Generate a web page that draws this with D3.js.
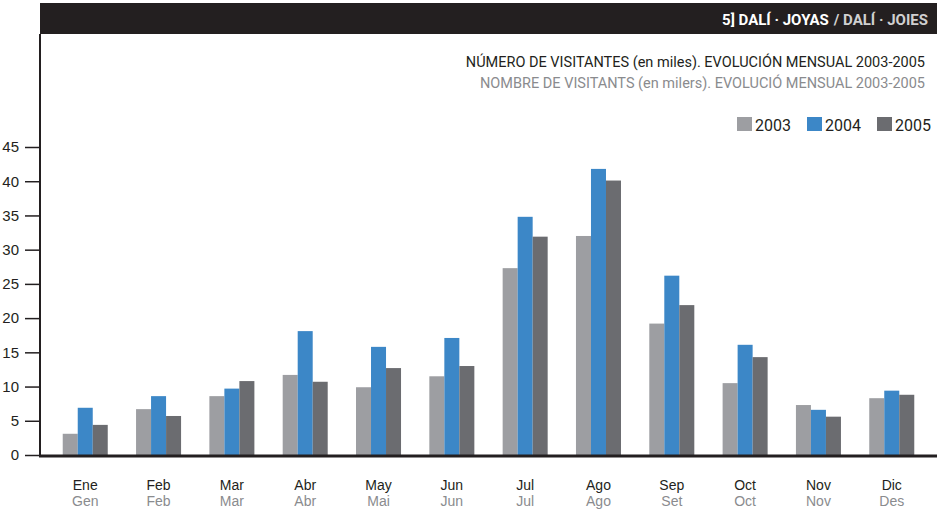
<!DOCTYPE html>
<html>
<head>
<meta charset="utf-8">
<script src="https://cdn.jsdelivr.net/npm/d3@7"></script>
<style>
body { margin: 0; background: #fff; }
svg { display: block; font-family: Roboto, "DejaVu Sans", sans-serif; }
</style>
</head>
<body>
<svg></svg>
<script>
let width = 937;
let height = 510;

let monthsEs = ["Ene", "Feb", "Mar", "Abr", "May", "Jun", "Jul", "Ago", "Sep", "Oct", "Nov", "Dic"];
let monthsCa = ["Gen", "Feb", "Mar", "Abr", "Mai", "Jun", "Jul", "Ago", "Set", "Oct", "Nov", "Des"];
let years = ["2003", "2004", "2005"];
let v2003 = [3.1, 6.7, 8.6, 11.7, 9.9, 11.5, 27.3, 32.0, 19.2, 10.5, 7.3, 8.3];
let v2004 = [6.9, 8.6, 9.7, 18.1, 15.8, 17.1, 34.8, 41.8, 26.2, 16.1, 6.6, 9.4];
let v2005 = [4.4, 5.7, 10.8, 10.7, 12.7, 13.0, 31.9, 40.1, 21.9, 14.3, 5.6, 8.8];
let yTicks = [0, 5, 10, 15, 20, 25, 30, 35, 40, 45];

let colors = ["#9d9ea2", "#3c87c7", "#6b6c70"];
let series = [v2003, v2004, v2005];

let axisX = 40;
let baseY = 455;

let svg = d3.select("svg")
    .attr("width", width)
    .attr("height", height);

let xScale = d3.scaleBand()
    .domain(monthsEs)
    .range([axisX, width])
    .paddingInner(0.386)
    .paddingOuter(0.31);

let xSub = d3.scaleBand()
    .domain(years)
    .range([0, xScale.bandwidth()]);

let yScale = d3.scaleLinear()
    .domain([0, 45])
    .range([baseY, baseY - 308]);

let color = d3.scaleOrdinal().domain(years).range(colors);

// header bar
svg.append("rect")
    .attr("x", axisX)
    .attr("y", 3)
    .attr("width", width - axisX)
    .attr("height", 31)
    .attr("fill", "#231f20");

let headGray = svg.append("text")
    .attr("x", 928)
    .attr("y", 25)
    .attr("text-anchor", "end")
    .attr("fill", "#d0d0d0")
    .style("font-size", "15px")
    .style("font-weight", "bold")
    .text("/ DALÍ · JOIES");

let grayW = headGray.node().getComputedTextLength();

svg.append("text")
    .attr("x", 928 - grayW - 5)
    .attr("y", 25)
    .attr("text-anchor", "end")
    .attr("fill", "#fff")
    .style("font-size", "15px")
    .style("font-weight", "bold")
    .text("5] DALÍ · JOYAS");

// titles
svg.append("text")
    .attr("x", 925)
    .attr("y", 67)
    .attr("text-anchor", "end")
    .attr("fill", "#231f20")
    .style("font-size", "14.5px")
    .text("NÚMERO DE VISITANTES (en miles). EVOLUCIÓN MENSUAL 2003-2005");

svg.append("text")
    .attr("x", 925)
    .attr("y", 88)
    .attr("text-anchor", "end")
    .attr("fill", "#8a8b8e")
    .style("font-size", "14.5px")
    .text("NOMBRE DE VISITANTS (en milers). EVOLUCIÓ MENSUAL 2003-2005");

// legend
let legendX = d3.scaleOrdinal().domain(years).range([737, 807, 877]);
let legend = svg.append("g")
    .selectAll("g")
    .data(years)
    .join("g")
    .attr("transform", d => "translate(" + legendX(d) + ",117)");

legend.append("rect")
    .attr("width", 15)
    .attr("height", 14)
    .attr("fill", d => color(d));

legend.append("text")
    .attr("x", 18)
    .attr("y", 14)
    .attr("fill", "#231f20")
    .style("font-size", "16px")
    .text(d => d);

// y axis
let yAxis = d3.axisLeft(yScale)
    .tickValues(yTicks)
    .tickSize(15)
    .tickPadding(6)
    .tickSizeOuter(0);

let gy = svg.append("g")
    .attr("transform", "translate(" + axisX + ",0)")
    .call(yAxis);
gy.select(".domain").remove();
gy.selectAll(".tick line").attr("stroke", "#231f20").attr("stroke-width", 1.5);
gy.selectAll(".tick text")
    .attr("fill", "#231f20")
    .style("font-size", "15px")
    .style("font-family", "inherit");

svg.append("line")
    .attr("x1", axisX)
    .attr("x2", axisX)
    .attr("y1", 34)
    .attr("y2", baseY + 1)
    .attr("stroke", "#231f20")
    .attr("stroke-width", 2);

// bars
let groups = svg.append("g")
    .selectAll("g")
    .data(monthsEs)
    .join("g")
    .attr("transform", d => "translate(" + xScale(d) + ",0)");

groups.selectAll("rect")
    .data((d, i) => years.map((y, j) => ({ year: y, value: series[j][i] })))
    .join("rect")
    .attr("x", d => xSub(d.year))
    .attr("y", d => yScale(d.value))
    .attr("width", xSub.bandwidth())
    .attr("height", d => baseY - yScale(d.value))
    .attr("fill", d => color(d.year));

// baseline
svg.append("line")
    .attr("x1", axisX - 1)
    .attr("x2", width)
    .attr("y1", baseY + 1)
    .attr("y2", baseY + 1)
    .attr("stroke", "#231f20")
    .attr("stroke-width", 3);

// x labels
let xAxis = d3.axisBottom(xScale).tickSize(0).tickPadding(0);
let gx = svg.append("g")
    .attr("transform", "translate(0," + baseY + ")")
    .call(xAxis);
gx.select(".domain").remove();
gx.selectAll(".tick text").remove();

gx.selectAll(".tick").append("text")
    .attr("y", 35)
    .attr("text-anchor", "middle")
    .attr("fill", "#231f20")
    .style("font-size", "14px")
    .text(d => d);

gx.selectAll(".tick").append("text")
    .attr("y", 51)
    .attr("text-anchor", "middle")
    .attr("fill", "#8a8b8e")
    .style("font-size", "14px")
    .text((d, i) => monthsCa[i]);
</script>
</body>
</html>
